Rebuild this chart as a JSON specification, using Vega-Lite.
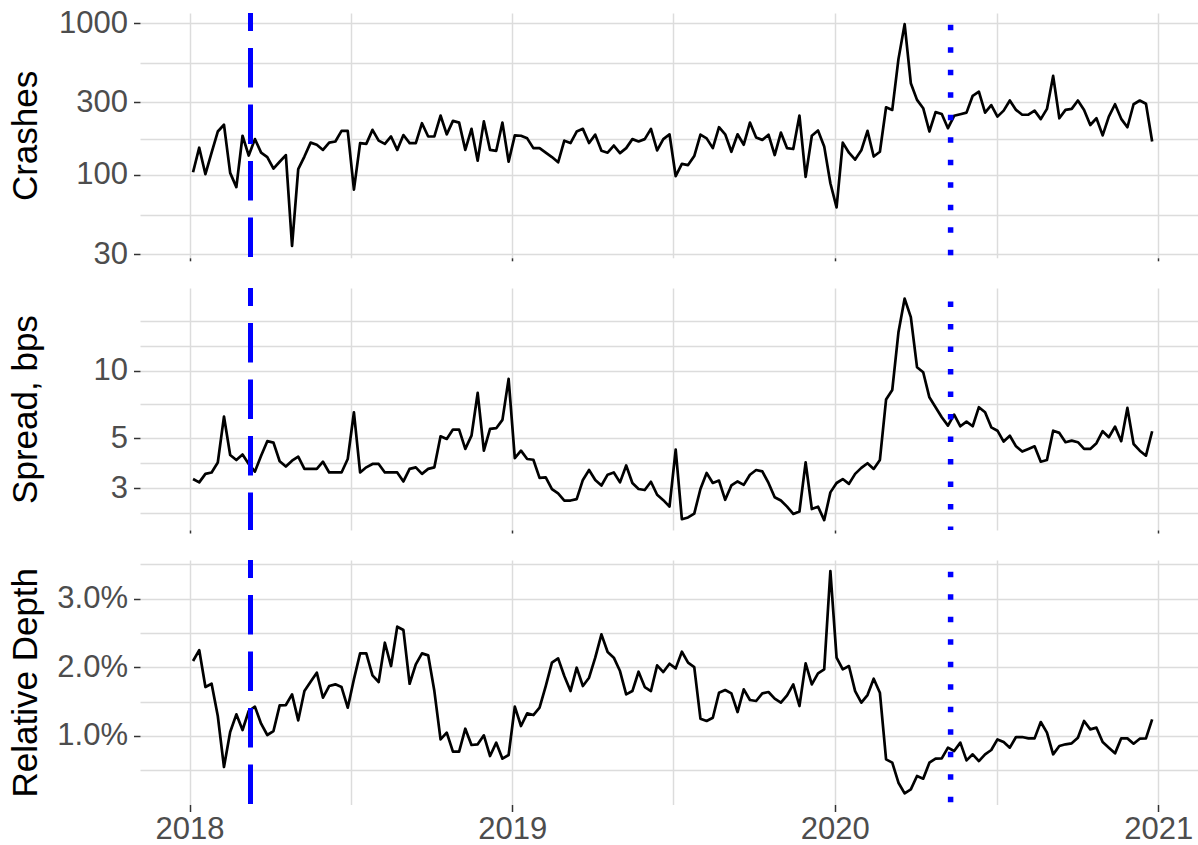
{
  "$schema": "https://vega.github.io/schema/vega-lite/v6.json",
  "background": "white",
  "padding": {"left": 8, "top": 7, "right": 0, "bottom": 0},
  "autosize": {"type": "pad"},
  "bounds": "flush",
  "spacing": 30,
  "config": {
    "font": "Liberation Sans",
    "view": {"stroke": null},
    "axis": {
      "domain": false,
      "gridColor": "#DCDCDC",
      "gridWidth": 1.5,
      "tickColor": "#333333",
      "tickWidth": 1.5,
      "labelColor": "#4D4D4D",
      "labelFont": "Liberation Sans",
      "labelFontSize": 31,
      "titleFont": "Liberation Sans",
      "titleFontSize": 35,
      "titleColor": "#000000",
      "titleFontWeight": "normal",
      "labelOverlap": false,
      "labelFlush": false,
      "labelBound": false
    }
  },
  "datasets": {
    "ev1": [{"date": "2018-03-11"}],
    "ev2": [{"date": "2020-05-11"}],
    "w": [
      {"d":"2018-01-05","c":104,"s":3.29,"r":0.02091},
      {"d":"2018-01-12","c":151,"s":3.18,"r":0.02251},
      {"d":"2018-01-19","c":101,"s":3.47,"r":0.01712},
      {"d":"2018-01-26","c":140,"s":3.52,"r":0.01760},
      {"d":"2018-02-02","c":193,"s":3.90,"r":0.01289},
      {"d":"2018-02-09","c":214,"s":6.24,"r":0.00545},
      {"d":"2018-02-16","c":103,"s":4.21,"r":0.01055},
      {"d":"2018-02-23","c":83,"s":4.00,"r":0.01313},
      {"d":"2018-03-02","c":181,"s":4.23,"r":0.01085},
      {"d":"2018-03-09","c":134,"s":3.84,"r":0.01362},
      {"d":"2018-03-16","c":172,"s":3.55,"r":0.01425},
      {"d":"2018-03-23","c":140,"s":4.18,"r":0.01177},
      {"d":"2018-03-30","c":131,"s":4.85,"r":0.01012},
      {"d":"2018-04-06","c":110,"s":4.78,"r":0.01070},
      {"d":"2018-04-13","c":122,"s":3.95,"r":0.01444},
      {"d":"2018-04-20","c":135,"s":3.74,"r":0.01449},
      {"d":"2018-04-27","c":34,"s":3.97,"r":0.01605},
      {"d":"2018-05-04","c":109,"s":4.14,"r":0.01226},
      {"d":"2018-05-11","c":132,"s":3.65,"r":0.01653},
      {"d":"2018-05-18","c":163,"s":3.65,"r":0.01789},
      {"d":"2018-05-25","c":158,"s":3.65,"r":0.01921},
      {"d":"2018-06-01","c":146,"s":3.93,"r":0.01556},
      {"d":"2018-06-08","c":163,"s":3.52,"r":0.01726},
      {"d":"2018-06-15","c":166,"s":3.52,"r":0.01751},
      {"d":"2018-06-22","c":195,"s":3.52,"r":0.01712},
      {"d":"2018-06-29","c":195,"s":4.04,"r":0.01410},
      {"d":"2018-07-06","c":80,"s":6.52,"r":0.01824},
      {"d":"2018-07-13","c":162,"s":3.52,"r":0.02203},
      {"d":"2018-07-20","c":160,"s":3.71,"r":0.02203},
      {"d":"2018-07-27","c":198,"s":3.84,"r":0.01882},
      {"d":"2018-08-03","c":168,"s":3.84,"r":0.01785},
      {"d":"2018-08-10","c":160,"s":3.52,"r":0.02358},
      {"d":"2018-08-17","c":179,"s":3.52,"r":0.02018},
      {"d":"2018-08-24","c":146,"s":3.52,"r":0.02592},
      {"d":"2018-08-31","c":183,"s":3.21,"r":0.02543},
      {"d":"2018-09-07","c":162,"s":3.65,"r":0.01760},
      {"d":"2018-09-14","c":162,"s":3.71,"r":0.02042},
      {"d":"2018-09-21","c":219,"s":3.47,"r":0.02203},
      {"d":"2018-09-28","c":179,"s":3.65,"r":0.02174},
      {"d":"2018-10-05","c":179,"s":3.71,"r":0.01653},
      {"d":"2018-10-12","c":246,"s":5.10,"r":0.00948},
      {"d":"2018-10-19","c":185,"s":4.96,"r":0.01046},
      {"d":"2018-10-26","c":227,"s":5.46,"r":0.00769},
      {"d":"2018-11-02","c":221,"s":5.46,"r":0.00769},
      {"d":"2018-11-09","c":146,"s":4.48,"r":0.01104},
      {"d":"2018-11-16","c":201,"s":5.13,"r":0.00866},
      {"d":"2018-11-23","c":124,"s":7.95,"r":0.00876},
      {"d":"2018-11-30","c":225,"s":4.40,"r":0.01007},
      {"d":"2018-12-07","c":146,"s":5.50,"r":0.00705},
      {"d":"2018-12-14","c":144,"s":5.54,"r":0.00900},
      {"d":"2018-12-21","c":221,"s":6.03,"r":0.00666},
      {"d":"2018-12-28","c":122,"s":9.18,"r":0.00720},
      {"d":"2019-01-04","c":182,"s":4.08,"r":0.01425},
      {"d":"2019-01-11","c":181,"s":4.40,"r":0.01143},
      {"d":"2019-01-18","c":174,"s":4.04,"r":0.01328},
      {"d":"2019-01-25","c":150,"s":4.01,"r":0.01303},
      {"d":"2019-02-01","c":150,"s":3.33,"r":0.01410},
      {"d":"2019-02-08","c":140,"s":3.35,"r":0.01726},
      {"d":"2019-02-15","c":131,"s":2.97,"r":0.02067},
      {"d":"2019-02-22","c":121,"s":2.84,"r":0.02130},
      {"d":"2019-03-01","c":168,"s":2.64,"r":0.01872},
      {"d":"2019-03-08","c":162,"s":2.64,"r":0.01653},
      {"d":"2019-03-15","c":193,"s":2.68,"r":0.01994},
      {"d":"2019-03-22","c":201,"s":3.26,"r":0.01726},
      {"d":"2019-03-29","c":162,"s":3.61,"r":0.01848},
      {"d":"2019-04-05","c":184,"s":3.26,"r":0.02140},
      {"d":"2019-04-12","c":144,"s":3.08,"r":0.02480},
      {"d":"2019-04-19","c":140,"s":3.44,"r":0.02222},
      {"d":"2019-04-26","c":156,"s":3.52,"r":0.02140},
      {"d":"2019-05-03","c":139,"s":3.18,"r":0.01945},
      {"d":"2019-05-10","c":150,"s":3.78,"r":0.01605},
      {"d":"2019-05-17","c":172,"s":3.16,"r":0.01653},
      {"d":"2019-05-24","c":166,"s":2.97,"r":0.01935},
      {"d":"2019-05-31","c":172,"s":2.94,"r":0.01712},
      {"d":"2019-06-07","c":201,"s":3.20,"r":0.01653},
      {"d":"2019-06-14","c":145,"s":2.80,"r":0.02028},
      {"d":"2019-06-21","c":172,"s":2.65,"r":0.01930},
      {"d":"2019-06-28","c":185,"s":2.48,"r":0.02052},
      {"d":"2019-07-05","c":98,"s":4.45,"r":0.01984},
      {"d":"2019-07-12","c":118,"s":2.18,"r":0.02227},
      {"d":"2019-07-19","c":116,"s":2.22,"r":0.02067},
      {"d":"2019-07-26","c":133,"s":2.31,"r":0.02003},
      {"d":"2019-08-02","c":184,"s":2.97,"r":0.01250},
      {"d":"2019-08-09","c":174,"s":3.50,"r":0.01216},
      {"d":"2019-08-16","c":150,"s":3.16,"r":0.01264},
      {"d":"2019-08-23","c":206,"s":3.24,"r":0.01629},
      {"d":"2019-08-30","c":185,"s":2.66,"r":0.01668},
      {"d":"2019-09-06","c":142,"s":3.08,"r":0.01619},
      {"d":"2019-09-13","c":185,"s":3.21,"r":0.01347},
      {"d":"2019-09-20","c":158,"s":3.10,"r":0.01678},
      {"d":"2019-09-27","c":221,"s":3.44,"r":0.01522},
      {"d":"2019-10-04","c":176,"s":3.61,"r":0.01508},
      {"d":"2019-10-11","c":170,"s":3.56,"r":0.01619},
      {"d":"2019-10-18","c":184,"s":3.16,"r":0.01639},
      {"d":"2019-10-25","c":135,"s":2.73,"r":0.01542},
      {"d":"2019-11-01","c":190,"s":2.64,"r":0.01483},
      {"d":"2019-11-08","c":150,"s":2.48,"r":0.01590},
      {"d":"2019-11-15","c":148,"s":2.30,"r":0.01751},
      {"d":"2019-11-22","c":246,"s":2.36,"r":0.01435},
      {"d":"2019-11-29","c":97,"s":3.90,"r":0.02057},
      {"d":"2019-12-06","c":181,"s":2.42,"r":0.01751},
      {"d":"2019-12-13","c":196,"s":2.48,"r":0.01911},
      {"d":"2019-12-20","c":154,"s":2.16,"r":0.01969},
      {"d":"2019-12-27","c":88,"s":2.87,"r":0.03404},
      {"d":"2020-01-03","c":61,"s":3.16,"r":0.02140},
      {"d":"2020-01-10","c":163,"s":3.29,"r":0.01969},
      {"d":"2020-01-17","c":140,"s":3.13,"r":0.02018},
      {"d":"2020-01-24","c":126,"s":3.47,"r":0.01653},
      {"d":"2020-01-31","c":145,"s":3.69,"r":0.01483},
      {"d":"2020-02-07","c":195,"s":3.87,"r":0.01595},
      {"d":"2020-02-14","c":132,"s":3.65,"r":0.01833},
      {"d":"2020-02-21","c":142,"s":4.00,"r":0.01629},
      {"d":"2020-02-28","c":279,"s":7.43,"r":0.00657},
      {"d":"2020-03-06","c":268,"s":8.20,"r":0.00608},
      {"d":"2020-03-13","c":579,"s":14.8,"r":0.00316},
      {"d":"2020-03-20","c":985,"s":20.9,"r":0.00161},
      {"d":"2020-03-27","c":402,"s":17.3,"r":0.00219},
      {"d":"2020-04-03","c":312,"s":10.35,"r":0.00414},
      {"d":"2020-04-10","c":275,"s":9.83,"r":0.00375},
      {"d":"2020-04-17","c":193,"s":7.60,"r":0.00608},
      {"d":"2020-04-24","c":259,"s":6.87,"r":0.00666},
      {"d":"2020-05-01","c":252,"s":6.20,"r":0.00671},
      {"d":"2020-05-08","c":203,"s":5.69,"r":0.00827},
      {"d":"2020-05-15","c":245,"s":6.37,"r":0.00778},
      {"d":"2020-05-22","c":251,"s":5.65,"r":0.00900},
      {"d":"2020-05-29","c":257,"s":5.93,"r":0.00642},
      {"d":"2020-06-05","c":332,"s":5.65,"r":0.00730},
      {"d":"2020-06-12","c":353,"s":6.87,"r":0.00632},
      {"d":"2020-06-19","c":257,"s":6.52,"r":0.00730},
      {"d":"2020-06-26","c":288,"s":5.59,"r":0.00793},
      {"d":"2020-07-03","c":242,"s":5.40,"r":0.00948},
      {"d":"2020-07-10","c":265,"s":4.83,"r":0.00910},
      {"d":"2020-07-17","c":309,"s":5.13,"r":0.00827},
      {"d":"2020-07-24","c":268,"s":4.60,"r":0.00982},
      {"d":"2020-07-31","c":249,"s":4.36,"r":0.00982},
      {"d":"2020-08-07","c":249,"s":4.48,"r":0.00963},
      {"d":"2020-08-14","c":265,"s":4.60,"r":0.00963},
      {"d":"2020-08-21","c":233,"s":3.93,"r":0.01201},
      {"d":"2020-08-28","c":272,"s":4.00,"r":0.01046},
      {"d":"2020-09-04","c":449,"s":5.40,"r":0.00730},
      {"d":"2020-09-11","c":236,"s":5.28,"r":0.00851},
      {"d":"2020-09-18","c":268,"s":4.80,"r":0.00876},
      {"d":"2020-09-25","c":272,"s":4.88,"r":0.00890},
      {"d":"2020-10-02","c":309,"s":4.80,"r":0.00973},
      {"d":"2020-10-09","c":268,"s":4.48,"r":0.01216},
      {"d":"2020-10-16","c":213,"s":4.48,"r":0.01094},
      {"d":"2020-10-23","c":236,"s":4.75,"r":0.01119},
      {"d":"2020-10-30","c":182,"s":5.37,"r":0.00910},
      {"d":"2020-11-06","c":242,"s":5.05,"r":0.00827},
      {"d":"2020-11-13","c":292,"s":5.63,"r":0.00744},
      {"d":"2020-11-20","c":234,"s":4.85,"r":0.00963},
      {"d":"2020-11-27","c":206,"s":6.82,"r":0.00963},
      {"d":"2020-12-04","c":292,"s":4.71,"r":0.00885},
      {"d":"2020-12-11","c":309,"s":4.40,"r":0.00958},
      {"d":"2020-12-18","c":294,"s":4.18,"r":0.00963},
      {"d":"2020-12-25","c":166,"s":5.37,"r":0.01240}
    ]
  },
  "vconcat": [
    {
      "width": 1059,
      "height": 244.8,
      "layer": [
        {
          "data": {"name": "w"},
          "mark": {"type": "line", "color": "#000000", "strokeWidth": 2.7, "strokeJoin": "round"},
          "encoding": {
            "x": {
              "field": "d", "type": "temporal",
              "scale": {"type": "utc", "domain": [{"year": 2017, "month": 11, "date": 6, "utc": true}, {"year": 2021, "month": 2, "date": 16, "utc": true}]},
              "axis": {
                "title": null,
                "values": [
                  {"year": 2018, "month": 1, "date": 1, "utc": true},
                  {"year": 2018, "month": 7, "date": 2, "hours": 12, "utc": true},
                  {"year": 2019, "month": 1, "date": 1, "utc": true},
                  {"year": 2019, "month": 7, "date": 2, "hours": 12, "utc": true},
                  {"year": 2020, "month": 1, "date": 1, "utc": true},
                  {"year": 2020, "month": 7, "date": 2, "hours": 12, "utc": true},
                  {"year": 2021, "month": 1, "date": 1, "utc": true}
                ],
                "labels": false,
                "tickSize": 3,
                "tickOpacity": {"condition": {"test": "utcmonth(datum.value) == 0", "value": 1}, "value": 0}
              }
            },
            "y": {
              "field": "c", "type": "quantitative",
              "scale": {"type": "log", "domain": [28.4, 1166], "nice": false, "zero": false},
              "axis": {
                "title": "Crashes",
                "titleX": -103.3,
                "titleBaseline": "alphabetic",
                "values": [30, 54.5, 100, 172, 300, 545, 1000],
                "labelExpr": "(datum.value == 30 || datum.value == 100 || datum.value == 300 || datum.value == 1000) ? format(datum.value, 'd') : ''",
                "tickSize": 6.5,
                "labelPadding": 6,
                "tickOpacity": {"condition": {"test": "datum.value == 30 || datum.value == 100 || datum.value == 300 || datum.value == 1000", "value": 1}, "value": 0}
              }
            }
          }
        },
        {
          "data": {"name": "ev1"},
          "mark": {"type": "rule", "color": "#0000FF", "strokeWidth": 5, "strokeDash": [39.5, 17], "strokeDashOffset": 21.5},
          "encoding": {"x": {"field": "date", "type": "temporal"}}
        },
        {
          "data": {"name": "ev2"},
          "mark": {"type": "rule", "color": "#0000FF", "strokeWidth": 5.5, "strokeDash": [5.5, 17], "strokeDashOffset": 10.7},
          "encoding": {"x": {"field": "date", "type": "temporal"}}
        }
      ]
    },
    {
      "width": 1059,
      "height": 242,
      "layer": [
        {
          "data": {"name": "w"},
          "mark": {"type": "line", "color": "#000000", "strokeWidth": 2.7, "strokeJoin": "round"},
          "encoding": {
            "x": {
              "field": "d", "type": "temporal",
              "scale": {"type": "utc", "domain": [{"year": 2017, "month": 11, "date": 6, "utc": true}, {"year": 2021, "month": 2, "date": 16, "utc": true}]},
              "axis": {
                "title": null,
                "values": [
                  {"year": 2018, "month": 1, "date": 1, "utc": true},
                  {"year": 2018, "month": 7, "date": 2, "hours": 12, "utc": true},
                  {"year": 2019, "month": 1, "date": 1, "utc": true},
                  {"year": 2019, "month": 7, "date": 2, "hours": 12, "utc": true},
                  {"year": 2020, "month": 1, "date": 1, "utc": true},
                  {"year": 2020, "month": 7, "date": 2, "hours": 12, "utc": true},
                  {"year": 2021, "month": 1, "date": 1, "utc": true}
                ],
                "labels": false,
                "tickSize": 3,
                "tickOpacity": {"condition": {"test": "utcmonth(datum.value) == 0", "value": 1}, "value": 0}
              }
            },
            "y": {
              "field": "s", "type": "quantitative",
              "scale": {"type": "log", "domain": [1.952, 23.3], "nice": false, "zero": false},
              "axis": {
                "title": "Spread, bps",
                "titleX": -103.3,
                "titleBaseline": "alphabetic",
                "values": [2.32, 3, 3.88, 5, 7.07, 10, 12.9, 16.7],
                "labelExpr": "(datum.value == 3 || datum.value == 5 || datum.value == 10) ? format(datum.value, 'd') : ''",
                "tickSize": 6.5,
                "labelPadding": 6,
                "tickOpacity": {"condition": {"test": "datum.value == 3 || datum.value == 5 || datum.value == 10", "value": 1}, "value": 0}
              }
            }
          }
        },
        {
          "data": {"name": "ev1"},
          "mark": {"type": "rule", "color": "#0000FF", "strokeWidth": 5, "strokeDash": [39.5, 17], "strokeDashOffset": 21.5},
          "encoding": {"x": {"field": "date", "type": "temporal"}}
        },
        {
          "data": {"name": "ev2"},
          "mark": {"type": "rule", "color": "#0000FF", "strokeWidth": 5.5, "strokeDash": [5.5, 17], "strokeDashOffset": 9},
          "encoding": {"x": {"field": "date", "type": "temporal"}}
        }
      ]
    },
    {
      "width": 1059,
      "height": 244.5,
      "layer": [
        {
          "data": {"name": "w"},
          "mark": {"type": "line", "color": "#000000", "strokeWidth": 2.7, "strokeJoin": "round"},
          "encoding": {
            "x": {
              "field": "d", "type": "temporal",
              "scale": {"type": "utc", "domain": [{"year": 2017, "month": 11, "date": 6, "utc": true}, {"year": 2021, "month": 2, "date": 16, "utc": true}]},
              "axis": {
                "title": null,
                "values": [
                  {"year": 2018, "month": 1, "date": 1, "utc": true},
                  {"year": 2018, "month": 7, "date": 2, "hours": 12, "utc": true},
                  {"year": 2019, "month": 1, "date": 1, "utc": true},
                  {"year": 2019, "month": 7, "date": 2, "hours": 12, "utc": true},
                  {"year": 2020, "month": 1, "date": 1, "utc": true},
                  {"year": 2020, "month": 7, "date": 2, "hours": 12, "utc": true},
                  {"year": 2021, "month": 1, "date": 1, "utc": true}
                ],
                "labelExpr": "utcmonth(datum.value) == 0 ? utcFormat(datum.value, '%Y') : ''",
                "tickSize": 7,
                "labelPadding": 3,
                "tickOpacity": {"condition": {"test": "utcmonth(datum.value) == 0", "value": 1}, "value": 0}
              }
            },
            "y": {
              "field": "r", "type": "quantitative",
              "scale": {"domain": [-0.00002, 0.03565], "nice": false, "zero": false},
              "axis": {
                "title": "Relative Depth",
                "titleX": -103.3,
                "titleBaseline": "alphabetic",
                "values": [0.005, 0.01, 0.015, 0.02, 0.025, 0.03, 0.035],
                "labelExpr": "(datum.value == 0.01 || datum.value == 0.02 || datum.value == 0.03) ? format(datum.value, '.1%') : ''",
                "tickSize": 6.5,
                "labelPadding": 6,
                "tickOpacity": {"condition": {"test": "datum.value == 0.01 || datum.value == 0.02 || datum.value == 0.03", "value": 1}, "value": 0}
              }
            }
          }
        },
        {
          "data": {"name": "ev1"},
          "mark": {"type": "rule", "color": "#0000FF", "strokeWidth": 5, "strokeDash": [39.5, 17], "strokeDashOffset": 21.5},
          "encoding": {"x": {"field": "date", "type": "temporal"}}
        },
        {
          "data": {"name": "ev2"},
          "mark": {"type": "rule", "color": "#0000FF", "strokeWidth": 5.5, "strokeDash": [5.5, 17], "strokeDashOffset": 10.7},
          "encoding": {"x": {"field": "date", "type": "temporal"}}
        }
      ]
    }
  ]
}
